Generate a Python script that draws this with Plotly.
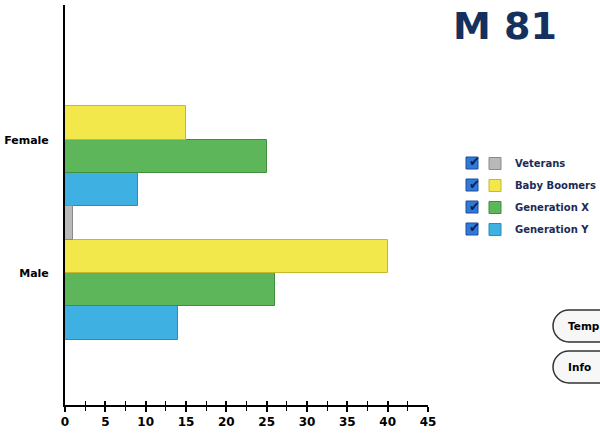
import plotly.graph_objects as go

categories = ["Male", "Female"]
series_names = ["Veterans", "Baby Boomers", "Generation X", "Generation Y"]
veterans = [1, 0]
baby_boomers = [40, 15]
generation_x = [26, 25]
generation_y = [14, 9]
series_values = [veterans, baby_boomers, generation_x, generation_y]
colors = ["#b9b9b9", "#f2e84c", "#5db75a", "#3eb0e2"]
line_colors = ["#8a8a8a", "#c8b92a", "#3f8f3c", "#2a8cc0"]
x_ticks = [0, 5, 10, 15, 20, 25, 30, 35, 40, 45]

W, H = 600, 439
L, R, T, B = 65, 172, 5, 34

def px(x):
    return x / W

def py(y):
    return (H - y) / H

fig = go.Figure()
# horizontal grouped bars: first trace is drawn at the bottom of the group
for i in reversed(range(len(series_names))):
    fig.add_trace(go.Bar(
        y=categories, x=series_values[i], name=series_names[i], orientation="h",
        legendgroup=series_names[i], legendrank=i + 1,
        marker=dict(color=colors[i], line=dict(color=line_colors[i], width=1)),
    ))

font_fam = "DejaVu Sans"
fig.update_layout(
    width=W, height=H,
    margin=dict(l=0, r=0, t=0, b=0, pad=0, autoexpand=False),
    paper_bgcolor="white", plot_bgcolor="white",
    barmode="group", bargap=0, bargroupgap=0,
    xaxis=dict(domain=[L / W, (W - R) / W], range=[0, 45], tickvals=x_ticks, ticks="outside",
               ticklen=5, tickwidth=1.5, tickcolor="black", showline=True, linecolor="black",
               linewidth=2, showgrid=False, zeroline=False,
               tickfont=dict(family=font_fam, size=12, color="black", weight="bold"),
               minor=dict(dtick=2.5, ticks="outside", ticklen=4, tickwidth=1.2, tickcolor="black")),
    xaxis2=dict(domain=[L / W, (W - R) / W], range=[0, 45], overlaying="x", anchor="y",
                side="bottom", tickvals=x_ticks, ticks="inside", ticklen=4, tickwidth=1.5,
                tickcolor="black", showticklabels=False, showgrid=False, zeroline=False,
                minor=dict(dtick=2.5, ticks="inside", ticklen=4, tickwidth=1.2, tickcolor="black")),
    yaxis=dict(domain=[B / H, (H - T) / H], range=[-0.99, 2.01], showline=True, linecolor="black",
               linewidth=2, ticks="", showgrid=False, zeroline=False, ticklabelstandoff=12,
               tickfont=dict(family=font_fam, size=11, color="black", weight="bold")),
    legend=dict(x=px(475), y=py(149), xanchor="left", yanchor="top", traceorder="grouped",
                font=dict(family=font_fam, size=10, color="#1b2b55", weight="bold"),
                itemclick=False, itemdoubleclick=False, tracegroupgap=3,
                bgcolor="rgba(0,0,0,0)"),
    showlegend=True,
)
# dummy trace to activate xaxis2 ticks
fig.add_trace(go.Scatter(x=[None], y=[None], xaxis="x2", showlegend=False, hoverinfo="skip"))

annotations = [
    dict(text="M 81", x=px(505), y=py(26), xref="paper", yref="paper", showarrow=False,
         xanchor="center", yanchor="middle",
         font=dict(family=font_fam, size=38, color="#13305f", weight="bold")),
]
shapes = []
for k in range(4):
    cy = 163 + 22 * k
    shapes.append(dict(type="rect", xref="paper", yref="paper",
                       x0=px(466), x1=px(478), y0=py(cy - 6), y1=py(cy + 6),
                       fillcolor="#2f7ad8", line=dict(color="#1d4f9c", width=1)))
    annotations.append(dict(text="✔", x=px(474), y=py(cy - 1), xref="paper", yref="paper",
                            xanchor="center", yanchor="middle", showarrow=False,
                            font=dict(family=font_fam, size=13, color="#0a1f5c")))

def button(top, bottom, label):
    r = (bottom - top) / 2
    cy = top + r
    x0 = 553
    k = 0.5523 * r
    pts = [
        ("M", [(x0 + r, top)]),
        ("C", [(x0 + r - k, top), (x0, cy - k), (x0, cy)]),
        ("C", [(x0, cy + k), (x0 + r - k, bottom), (x0 + r, bottom)]),
        ("L", [(640, bottom)]),
        ("L", [(640, top)]),
    ]
    path = ""
    for cmd, ps in pts:
        path += cmd + " " + " ".join(f"{px(a):.5f},{py(b):.5f}" for a, b in ps) + " "
    path += "Z"
    shapes.append(dict(type="path", path=path, xref="paper", yref="paper",
                       line=dict(color="#333333", width=1.5), fillcolor="#f7f7f7", layer="above"))
    annotations.append(dict(text=label, x=px(566), y=py(cy), xref="paper", yref="paper",
                            xanchor="left", yanchor="middle", showarrow=False,
                            font=dict(family=font_fam, size=10.5, color="black", weight="bold")))

button(310, 342, "Temp")
button(351, 383, "Info")
fig.update_layout(annotations=annotations, shapes=shapes)

fig.write_html("out.html", config={"displayModeBar": False},
               post_script="document.body.style.margin='0';document.body.style.overflow='hidden';")
